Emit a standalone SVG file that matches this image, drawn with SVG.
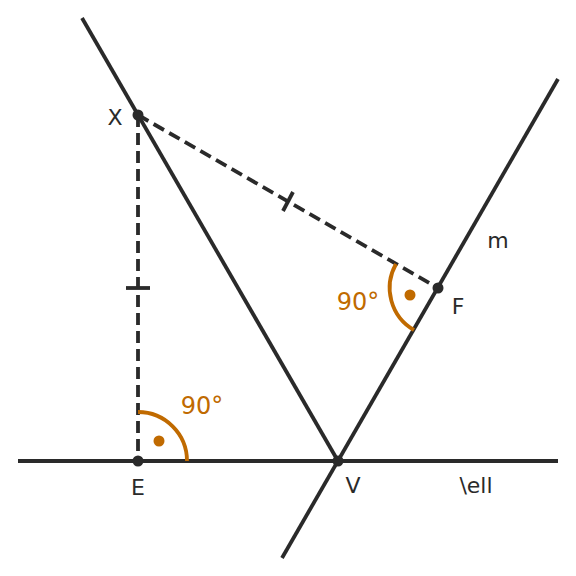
<svg xmlns="http://www.w3.org/2000/svg" width="576" height="576" viewBox="0 0 576 576">
<style>
.ln{stroke:#2a2a2a;stroke-width:3.8;fill:none;stroke-linecap:butt}
.dash{stroke:#2a2a2a;stroke-width:3.8;fill:none;stroke-dasharray:12 6}
.arc{stroke:#c06a00;stroke-width:3.8;fill:none}
.pt{fill:#2a2a2a}
.dot{fill:#c06a00}
.lbl{font-family:"DejaVu Sans",sans-serif;font-size:22px;fill:#2a2a2a}
.ang{font-family:"DejaVu Sans",sans-serif;font-size:24px;fill:#c06a00}
</style>
<rect width="576" height="576" fill="#ffffff"/>
<g id="connectors">
<line class="ln" x1="18" y1="461" x2="558" y2="461"/>
<line class="ln" x1="282" y1="558" x2="558" y2="79"/>
<line class="ln" x1="82" y1="18" x2="338" y2="461"/>
<line class="dash" x1="138" y1="115" x2="138" y2="461"/>
<line class="dash" x1="138" y1="115" x2="438" y2="288"/>
<line class="ln" x1="126" y1="288" x2="150" y2="288"/>
<line class="ln" x1="283" y1="211" x2="293" y2="192"/>
</g>
<g id="angle-E">
<path class="arc" d="M138,412 A49,49 0 0 1 187,461"/>
<circle class="dot" cx="159" cy="441" r="5.5"/>
<text class="ang" x="202" y="414" text-anchor="middle">90°</text>
</g>
<g id="angle-F">
<path class="arc" d="M396,264 A48.5,48.5 0 0 0 414,330"/>
<circle class="dot" cx="410" cy="295" r="5.5"/>
<text class="ang" x="358" y="310" text-anchor="middle">90°</text>
</g>
<g id="node-X">
<circle class="pt" cx="138" cy="115" r="5.5"/>
<text class="lbl" x="115" y="125" text-anchor="middle">X</text>
</g>
<g id="node-E">
<circle class="pt" cx="138" cy="461" r="5.5"/>
<text class="lbl" x="138" y="495" text-anchor="middle">E</text>
</g>
<g id="node-V">
<circle class="pt" cx="338" cy="461" r="5.5"/>
<text class="lbl" x="353" y="493" text-anchor="middle">V</text>
</g>
<g id="node-F">
<circle class="pt" cx="438" cy="288" r="5.5"/>
<text class="lbl" x="458" y="314" text-anchor="middle">F</text>
</g>
<g id="label-m">
<text class="lbl" x="498" y="248" text-anchor="middle">m</text>
</g>
<g id="label-ell">
<text class="lbl" x="476" y="493" text-anchor="middle">\ell</text>
</g>
</svg>
